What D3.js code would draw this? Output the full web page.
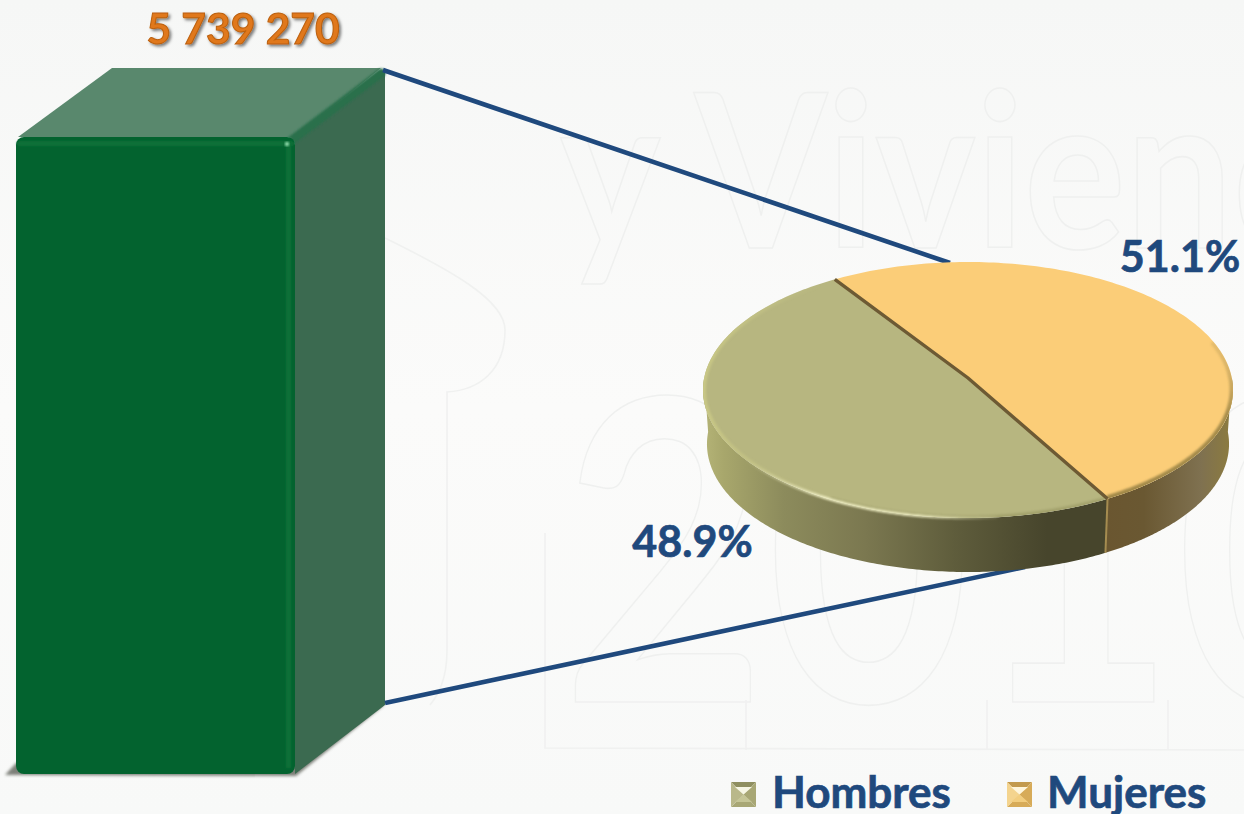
<!DOCTYPE html>
<html><head><meta charset="utf-8">
<script src="https://cdn.jsdelivr.net/npm/d3@7/dist/d3.min.js"></script>
<style>html,body{margin:0;padding:0;background:#f8f9f8;overflow:hidden}svg{display:block}text{font-family:Lato,"Open Sans",sans-serif;font-weight:700}</style>
</head><body><svg id="c" width="1244" height="814"></svg>
<script>
const barLabels = ["Total"];
const barValues = [5739270];
const barValueText = ["5 739 270"];
const categories = ["Hombres","Mujeres"];
const shares = [48.9,51.1];
const shareText = ["48.9%","51.1%"];
const topColors = ["#b7b680","#fbcd78"];
const watermark = [["y Vivienda",560,248,215,.885],["2010",562,702,420,.84]];

const svg = d3.select("#c");
const defs = svg.append("defs");
function grad(id,stops,x1=0,y1=0,x2=1,y2=0,user=false){
  const g=defs.append("linearGradient").attr("id",id).attr("x1",x1).attr("y1",y1).attr("x2",x2).attr("y2",y2);
  if(user)g.attr("gradientUnits","userSpaceOnUse");
  stops.forEach(s=>g.append("stop").attr("offset",s[0]).attr("stop-color",s[1]).attr("stop-opacity",s[2]===undefined?1:s[2]));
}
grad("wallH",[[0,"#b5b477"],[.05,"#a8a76c"],[.2,"#8c8b5c"],[.4,"#7b7850"],[.62,"#5f5d3c"],[.85,"#47452c"],[1,"#47452c"]]);
grad("wallM",[[0,"#6a5630"],[.3,"#6a5832"],[.75,"#7f7150"],[1,"#8d7c3e"]]);
grad("bgv",[[0,"#f6f7f6"],[.5,"#fbfbfa"],[1,"#f8f9f8"]],0,0,0,1);
grad("hl",[[0,"#f4f3c8",0],[.3,"#f4f3c8",1],[.65,"#f4f3c8",.9],[1,"#f4f3c8",0]],745,0,1010,0,true);
grad("bevL",[[0,"#c9c885",1],[.5,"#c3c285",.7],[1,"#c3c285",0]],700,0,820,0,true);
grad("bevR",[[0,"#927d40",.85],[.7,"#927d40",.8],[1,"#927d40",0]],1100,480,1232,340,true);
defs.append("filter").attr("id","b2").append("feGaussianBlur").attr("stdDeviation",1.6);
defs.append("filter").attr("id","b1").append("feGaussianBlur").attr("stdDeviation",.9);
const ds=defs.append("filter").attr("id","ts").attr("x","-10%").attr("y","-20%").attr("width","125%").attr("height","150%");
ds.append("feDropShadow").attr("dx",2).attr("dy",2).attr("stdDeviation",1.4).attr("flood-color","#000").attr("flood-opacity",.5);

// background + watermark
svg.append("rect").attr("width",1244).attr("height",814).attr("fill","url(#bgv)");
svg.selectAll("text.wm").data(watermark).join("text").attr("class","wm")
  .attr("transform",d=>`translate(${d[1]},${d[2]}) scale(${d[4]},1)`).attr("font-size",d=>d[3])
  .attr("fill","none").attr("stroke","#eff0ef").attr("stroke-width",1.6).text(d=>d[0]);
const decor=["M385 238C450 270 505 300 505 330C505 370 480 390 447 392L447 650C447 680 438 695 430 705","M545 533L545 748L1244 750","M746 700L746 750M987 700L987 750M1168 700L1168 750"];
svg.selectAll("path.decor").data(decor).join("path").attr("class","decor").attr("d",d=>d).attr("fill","none").attr("stroke","#f0f1f0").attr("stroke-width",1.6);

// bar
const y = d3.scaleLinear().domain([0,barValues[0]]).range([774,137]);
const xBand = d3.scaleBand().domain(barLabels).range([16,295]);
const dx=90, dy=-69;
const x0=xBand(barLabels[0]), x1=x0+xBand.bandwidth(), yT=y(barValues[0]), yB=y(0);
const depthLine=d3.line();
svg.append("path").attr("d",depthLine([[x0-11,yB+1],[x0,yB-11],[x1,yB-20],[x1+dx-1,yB+dy-2],[x1+dx-2,yB+dy+1],[x1+1,yB+2]])+"Z").attr("fill","#55594f").attr("filter","url(#b2)").attr("opacity",.75);
svg.append("path").attr("d",depthLine([[x0+2,yT],[x1,yT],[x1+dx-4,yT+dy],[x0+96,yT+dy]])+"Z").attr("fill","#59886d");
svg.append("path").attr("d",depthLine([[x1,yT],[x1+dx,yT+dy+3],[x1+dx,yB+dy],[x1,yB]])+"Z").attr("fill","#3b6a50");
svg.append("line").attr("x1",x1-3).attr("y1",yT+3).attr("x2",x1+dx-4).attr("y2",yT+dy+5).attr("stroke","#2a6f4b").attr("stroke-width",9).attr("stroke-linecap","round").attr("filter","url(#b1)");
svg.append("rect").attr("x",x0).attr("y",yT).attr("width",x1-x0).attr("height",yB-yT).attr("rx",8).attr("fill","#03632f");
svg.append("rect").attr("x",x0+1).attr("y",yT+4).attr("width",x1-x0-2).attr("height",5).attr("rx",3).attr("fill","#0a6f38").attr("filter","url(#b1)");
svg.append("rect").attr("x",x1-9).attr("y",yT+6).attr("width",5).attr("height",yB-yT-12).attr("fill","#0a6f38").attr("filter","url(#b1)");
svg.append("circle").attr("cx",x1-8).attr("cy",yT+7).attr("r",2.2).attr("fill","#8fdcac").attr("filter","url(#b1)");
svg.selectAll("text.val").data(barValueText).join("text").attr("class","val")
  .attr("x",243).attr("y",44).attr("text-anchor","middle").attr("font-size",42.5)
  .attr("fill","#e0781a").attr("stroke","#bb5f0e").attr("stroke-width",1).attr("filter","url(#ts)").text(d=>d);

// connector lines
const connectors=[[[383,70],[950,263]],[[385,703],[1025,567]]];
svg.selectAll("path.conn").data(connectors).join("path").attr("class","conn")
  .attr("d",d=>d3.line()(d)).attr("stroke","#1f497d").attr("stroke-width",4.6).attr("fill","none");

// pie: a flat disc seen in perspective
const cx=968, cy=390, rx=265, ry=128, depth=54, k=-0.094, s=Math.sqrt(1-k*k), taper=.985;
const proj=a=>{const u=Math.sin(a),v=-Math.cos(a),w=1+k*v;return [cx+rx*u*s/w, cy+ry*(v+k)/w];};
const apex=[cx,cy+ry*k];
const startRot=-33*Math.PI/180;
const pieGen=d3.pie().sort(null).startAngle(startRot-shares[0]/100*2*Math.PI).endAngle(startRot+(1-shares[0]/100)*2*Math.PI).value(d=>d);
const arcs=pieGen(shares);
const sample=(a0,a1,n=160)=>d3.range(n+1).map(i=>proj(a0+(a1-a0)*i/n));
const line=d3.line();
const pie=svg.append("g");
const wallPath=(a0,a1)=>{const top=sample(a0,a1);const bot=top.slice().reverse().map(p=>[cx+(p[0]-cx)*taper,p[1]+depth]);return line(top.concat(bot))+"Z";};
const pi=Math.PI;
const divideFront=arcs[1].endAngle;
const leftExtreme=1.5*pi;
pie.append("path").attr("d",wallPath(pi/2,divideFront)).attr("fill","url(#wallM)");
pie.append("path").attr("d",wallPath(divideFront,leftExtreme)).attr("fill","url(#wallH)");
const fp=proj(divideFront);
pie.append("line").attr("x1",fp[0]).attr("y1",fp[1]).attr("x2",cx+(fp[0]-cx)*taper).attr("y2",fp[1]+depth).attr("stroke","#a58c50").attr("stroke-width",2);
// tops
pie.selectAll("path.top").data(arcs).join("path").attr("class","top")
  .attr("d",d=>line([apex].concat(sample(d.startAngle,d.endAngle)))+"Z")
  .attr("fill",(d,i)=>topColors[i]);
// bevel rims stay inside the top face
defs.append("clipPath").attr("id","disc").append("path").attr("d",line(sample(0,2*pi))+"Z");
const bevel=pie.append("g").attr("clip-path","url(#disc)");
const rim=(a0,a1,col,w,op=1)=>bevel.append("path").attr("d",line(sample(a0,a1))).attr("fill","none").attr("stroke",col).attr("stroke-width",w).attr("opacity",op).attr("filter","url(#b1)");
rim(pi+.5,1.5*pi+.95,"url(#bevL)",6);
rim(pi/2-.3,divideFront,"url(#bevR)",7);
rim(divideFront,pi+.5,"#8f8e58",5,.5);
// highlight on the front rim
pie.append("path").attr("d",line(sample(pi-.1,1.5*pi-.3))).attr("fill","none").attr("stroke","url(#hl)").attr("stroke-width",2.6).attr("filter","url(#b1)");
// divider
pie.append("path").attr("d",line([proj(arcs[1].startAngle),apex,fp])).attr("fill","none").attr("stroke","#6d5a34").attr("stroke-width",3.4);

// share labels
const labelPos=[[692.5,557],[1180,272]];
svg.selectAll("text.share").data(shareText).join("text").attr("class","share")
  .attr("x",(d,i)=>labelPos[i][0]).attr("y",(d,i)=>labelPos[i][1]).attr("text-anchor","middle").attr("font-size",43).attr("fill","#1f497d").attr("stroke","#1f497d").attr("stroke-width",.7).text(d=>d);

// legend
const legendX=[731,1007], legendText=[772,1047];
const legendColors=[["#c5c596","#8f8f60","#a8a775","#b9b88a","#f6f6e4"],["#f2cd7e","#c39a4e","#d7ab58","#f4d48e","#fff6dc"]];
const lg=svg.selectAll("g.lg").data(categories).join("g").attr("class","lg").attr("transform",(d,i)=>`translate(${legendX[i]},782)`);
const S=25;
[[[0,0],[S,0],[S/2,S/2]],[[S,0],[S,S],[S/2,S/2]],[[S,S],[0,S],[S/2,S/2]],[[0,S],[0,0],[S/2,S/2]]].forEach((t,j)=>{
  lg.append("path").attr("d",line(t)+"Z").attr("fill",(d,i)=>legendColors[i][[1,2,2,3][j]]);
});
lg.append("path").attr("d",line([[4,5],[S-4,5],[S/2,S/2]])+"Z").attr("fill",(d,i)=>legendColors[i][4]);
lg.append("path").attr("d",line([[4,S-5],[S/2,S/2],[S-4,S-5]])+"Z").attr("fill",(d,i)=>legendColors[i][0]);
lg.append("text").attr("x",(d,i)=>legendText[i]-legendX[i]).attr("y",26).attr("font-size",44).attr("fill","#1f497d").attr("stroke","#1f497d").attr("stroke-width",.7).text(d=>d);
</script></body></html>
